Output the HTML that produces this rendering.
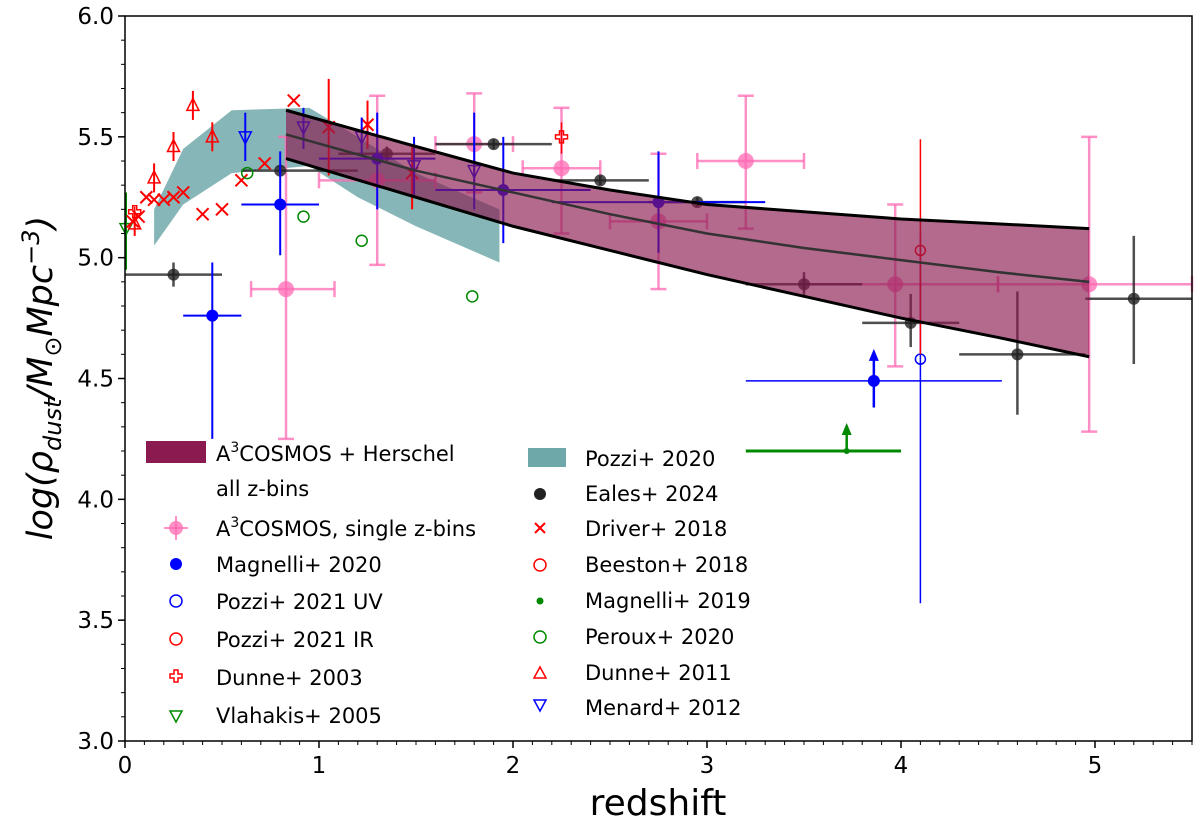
<!DOCTYPE html>
<html><head><meta charset="utf-8"><style>
body{margin:0;background:#fff;font-family:"Liberation Sans","DejaVu Sans",sans-serif}
svg text{font-family:"DejaVu Sans","Liberation Sans",sans-serif}
</style></head><body>
<svg id="c" width="1200" height="829"></svg>
<script>
const xTicks=[0,1,2,3,4,5];
const yTicks=[3.0,3.5,4.0,4.5,5.0,5.5,6.0];
// A3COSMOS + Herschel band
const bandZ=[0.83,1.5,2,2.5,3,3.5,4,4.5,4.97];
const bandUp=[5.61,5.46,5.35,5.28,5.22,5.19,5.16,5.14,5.12];
const bandMed=[5.51,5.36,5.27,5.18,5.10,5.04,4.99,4.94,4.90];
const bandLo=[5.41,5.25,5.13,5.03,4.93,4.84,4.75,4.67,4.59];
// Pozzi 2020 band
const pozZ=[0.15,0.3,0.55,0.95,1.2,1.5,1.93];
const pozUp=[5.2,5.45,5.61,5.62,5.5,5.35,5.2];
const pozLo=[5.05,5.22,5.35,5.38,5.25,5.13,4.98];
// A3COSMOS single z-bins
const a3Z=[0.83,1.3,1.8,2.25,2.75,3.2,3.97,4.97];
const a3V=[4.87,5.32,5.47,5.37,5.15,5.40,4.89,4.89];
const a3Zlo=[0.65,1.0,1.6,2.05,2.5,2.95,3.5,4.5];
const a3Zhi=[1.08,1.6,2.0,2.45,3.0,3.5,4.5,5.5];
const a3Vlo=[4.25,4.97,5.27,5.1,4.87,5.12,4.55,4.28];
const a3Vhi=[5.5,5.67,5.68,5.62,5.43,5.67,5.22,5.5];
// Eales 2024
const eaZ=[0.25,0.8,1.35,1.9,2.45,2.95,3.5,4.05,4.6,5.2];
const eaV=[4.93,5.36,5.43,5.47,5.32,5.23,4.89,4.73,4.6,4.83];
const eaZlo=[0,0.6,1.1,1.6,2.2,2.7,3.2,3.8,4.3,4.95];
const eaZhi=[0.5,1.2,1.6,2.2,2.7,3.2,3.8,4.3,4.95,5.5];
const eaVlo=[4.88,5.34,5.4,5.45,5.3,5.21,4.84,4.63,4.35,4.56];
const eaVhi=[4.98,5.38,5.46,5.49,5.34,5.25,4.94,4.85,4.86,5.09];
// Magnelli 2020
const mgZ=[0.45,0.8,1.3,1.95,2.75];
const mgV=[4.76,5.22,5.41,5.28,5.23];
const mgZlo=[0.3,0.6,1.0,1.6,2.2];
const mgZhi=[0.6,1.0,1.6,2.4,3.3];
const mgVlo=[4.25,5.01,5.2,5.06,5.02];
const mgVhi=[4.98,5.44,5.6,5.5,5.44];
const mgLimZ=[3.86], mgLimV=[4.49], mgLimZlo=[3.2], mgLimZhi=[4.52], mgLimVlo=[4.38];
// Pozzi 2021
const pUVZ=[4.1], pUVV=[4.58], pUVlo=[3.57], pUVhi=[5.1];
const pIRZ=[4.1], pIRV=[5.03], pIRlo=[4.6], pIRhi=[5.49];
// Dunne 2003
const d03Z=[0.05,2.25], d03V=[5.19,5.5], d03lo=[5.17,5.43], d03hi=[5.21,5.56];
// Vlahakis 2005
const vlZ=[0.0], vlV=[5.12], vllo=[4.95], vlhi=[5.27];
// Driver 2018
const drZ=[0.04,0.07,0.11,0.15,0.2,0.25,0.3,0.4,0.5,0.6,0.72,0.87,1.05,1.25,1.48];
const drV=[5.15,5.17,5.25,5.24,5.24,5.25,5.27,5.18,5.2,5.32,5.39,5.65,5.54,5.55,5.35];
const drLo=[5.15,5.17,5.25,5.24,5.24,5.25,5.27,5.18,5.2,5.32,5.39,5.65,5.34,5.45,5.2];
const drHi=[5.15,5.17,5.25,5.24,5.24,5.25,5.27,5.18,5.2,5.32,5.39,5.65,5.74,5.65,5.46];
// Peroux 2020
const peZ=[0.63,0.92,1.22,1.79], peV=[5.35,5.17,5.07,4.84];
// Dunne 2011
const d11Z=[0.05,0.15,0.25,0.35,0.45], d11V=[5.14,5.33,5.46,5.63,5.5];
const d11lo=[5.09,5.27,5.4,5.57,5.44], d11hi=[5.19,5.39,5.52,5.69,5.56];
// Menard 2012
const meZ=[0.62,0.92,1.22,1.49,1.8], meV=[5.5,5.54,5.5,5.38,5.36];
const melo=[5.4,5.45,5.42,5.25,5.2], mehi=[5.6,5.62,5.58,5.5,5.6];
// Magnelli 2019 lower limit
const m19Z=[3.72], m19V=[4.2], m19Zlo=[3.2], m19Zhi=[4.0];

const X0=125,X1=1192,Y0=16,Y1=741;
const X=z=>X0+(z-0)/5.5*(X1-X0);
const Y=v=>Y1-(v-3)/3*(Y1-Y0);
const svg=document.getElementById('c');
const NS='http://www.w3.org/2000/svg';
function mk(tag,at,name,parent){const e=document.createElementNS(NS,tag);for(const k in at)e.setAttribute(k,at[k]);


(parent||svg).appendChild(e);return e;}
const plot=mk('g',{},'plot-area');
function poly(zs,up,lo,fill,op,name){let p=zs.map((z,i)=>X(z)+','+Y(up[i]));for(let i=zs.length-1;i>=0;i--)p.push(X(zs[i])+','+Y(lo[i]));
mk('polygon',{points:p.join(' '),fill:fill,'fill-opacity':op},name,plot);}
function line(zs,vs,st,w,name){mk('polyline',{points:zs.map((z,i)=>X(z)+','+Y(vs[i])).join(' '),fill:'none',stroke:st,'stroke-width':w},name,plot);}
function seg(x1,y1,x2,y2,st,w,name,op){mk('line',{x1,y1,x2,y2,stroke:st,'stroke-width':w,'stroke-opacity':op||1},name,plot);}
// Pozzi band
poly(pozZ,pozUp,pozLo,'#5f9ea0',0.75,'pozzi2020-band');
// pink points
a3Z.forEach((z,i)=>{const c='#ff69b4',o=0.75;
seg(X(a3Zlo[i]),Y(a3V[i]),X(a3Zhi[i]),Y(a3V[i]),c,2.5,'a3-xerr',o);
seg(X(z),Y(a3Vlo[i]),X(z),Y(a3Vhi[i]),c,2.5,'a3-yerr',o);
[a3Zlo[i],a3Zhi[i]].forEach(q=>seg(X(q),Y(a3V[i])-8,X(q),Y(a3V[i])+8,c,2.5,'a3-cap',o));
[a3Vlo[i],a3Vhi[i]].forEach(q=>seg(X(z)-8,Y(q),X(z)+8,Y(q),c,2.5,'a3-cap',o));
mk('circle',{cx:X(z),cy:Y(a3V[i]),r:8,fill:c,'fill-opacity':o},'a3-point',plot);});
// Eales
eaZ.forEach((z,i)=>{const c='#222',o=0.8;
seg(X(eaZlo[i]),Y(eaV[i]),X(eaZhi[i]),Y(eaV[i]),c,2.5,'eales-xerr',o);
seg(X(z),Y(eaVlo[i]),X(z),Y(eaVhi[i]),c,2.5,'eales-yerr',o);
mk('circle',{cx:X(z),cy:Y(eaV[i]),r:6,fill:c,'fill-opacity':o},'eales-point',plot);});
// Magnelli 2020
mgZ.forEach((z,i)=>{const c='#0000ff';
seg(X(mgZlo[i]),Y(mgV[i]),X(mgZhi[i]),Y(mgV[i]),c,2,'magnelli2020-xerr');
seg(X(z),Y(mgVlo[i]),X(z),Y(mgVhi[i]),c,2,'magnelli2020-yerr');
mk('circle',{cx:X(z),cy:Y(mgV[i]),r:6,fill:c},'magnelli2020-point',plot);});
mgLimZ.forEach((z,i)=>{const c='#0000ff',x=X(z),y=Y(mgLimV[i]);
seg(X(mgLimZlo[i]),y,X(mgLimZhi[i]),y,c,1.5,'magnelli2020-limit-xerr');
seg(x,Y(mgLimVlo[i]),x,y-22,c,2.5,'magnelli2020-limit-arrow');
mk('polygon',{points:`${x-5},${y-20} ${x+5},${y-20} ${x},${y-32}`,fill:c},'magnelli2020-arrowhead',plot);
mk('circle',{cx:x,cy:y,r:6,fill:c},'magnelli2020-limit-point',plot);});
pUVZ.forEach((z,i)=>{seg(X(z),Y(pUVlo[i]),X(z),Y(pUVhi[i]),'#0000ff',1.5,'pozzi2021uv-yerr');
mk('circle',{cx:X(z),cy:Y(pUVV[i]),r:5,fill:'none',stroke:'#0000ff','stroke-width':1.5},'pozzi2021uv-point',plot);});
pIRZ.forEach((z,i)=>{seg(X(z),Y(pIRlo[i]),X(z),Y(pIRhi[i]),'#ff0000',1.5,'pozzi2021ir-yerr');
mk('circle',{cx:X(z),cy:Y(pIRV[i]),r:5,fill:'none',stroke:'#ff0000','stroke-width':1.5},'pozzi2021ir-point',plot);});
d03Z.forEach((z,i)=>{const x=X(z),y=Y(d03V[i]);seg(x,Y(d03lo[i]),x,Y(d03hi[i]),'#f00',1.5,'dunne2003-yerr');
mk('path',{d:`M${x-2},${y-6}h4v4h4v4h-4v4h-4v-4h-4v-4h4z`,fill:'none',stroke:'#f00','stroke-width':1.5},'dunne2003-point',plot);});
vlZ.forEach((z,i)=>{const x=X(z)+1,y=Y(vlV[i]);seg(x,Y(vllo[i]),x,Y(vlhi[i]),'#080',2,'vlahakis-yerr');
mk('polygon',{points:`${x-6},${y-5} ${x+6},${y-5} ${x},${y+6}`,fill:'none',stroke:'#080','stroke-width':1.5},'vlahakis-point',plot);});
drZ.forEach((z,i)=>{const x=X(z),y=Y(drV[i]);if(drHi[i]>drLo[i])seg(x,Y(drLo[i]),x,Y(drHi[i]),'#f00',2,'driver-yerr');
mk('path',{d:`M${x-6},${y-6}L${x+6},${y+6}M${x-6},${y+6}L${x+6},${y-6}`,stroke:'#f00','stroke-width':2},'driver-point',plot);});
peZ.forEach((z,i)=>mk('circle',{cx:X(z),cy:Y(peV[i]),r:5.5,fill:'none',stroke:'#080','stroke-width':1.5},'peroux-point',plot));
d11Z.forEach((z,i)=>{const x=X(z),y=Y(d11V[i]);seg(x,Y(d11lo[i]),x,Y(d11hi[i]),'#f00',2,'dunne2011-yerr');
mk('polygon',{points:`${x-6},${y+5} ${x+6},${y+5} ${x},${y-7}`,fill:'none',stroke:'#f00','stroke-width':1.5},'dunne2011-point',plot);});
meZ.forEach((z,i)=>{const x=X(z),y=Y(meV[i]);seg(x,Y(melo[i]),x,Y(mehi[i]),'#00f',2,'menard-yerr');
mk('polygon',{points:`${x-6},${y-5} ${x+6},${y-5} ${x},${y+7}`,fill:'none',stroke:'#00f','stroke-width':1.5},'menard-point',plot);});
m19Z.forEach((z,i)=>{const x=X(z),y=Y(m19V[i]);seg(X(m19Zlo[i]),y,X(m19Zhi[i]),y,'#080',3,'magnelli2019-xerr');
seg(x,y,x,y-18,'#080',2.5,'magnelli2019-arrow');
mk('polygon',{points:`${x-5},${y-16} ${x+5},${y-16} ${x},${y-28}`,fill:'#080'},'magnelli2019-arrowhead',plot);
mk('circle',{cx:x,cy:y,r:3,fill:'#080'},'magnelli2019-point',plot);});
// A3 band on top
poly(bandZ,bandUp,bandLo,'#8b1a50',0.65,'a3cosmos-band');
line(bandZ,bandUp,'#000',3,'a3cosmos-upper');
line(bandZ,bandLo,'#000',3,'a3cosmos-lower');
line(bandZ,bandMed,'#333',2.5,'a3cosmos-median');
// axes
mk('rect',{x:X0,y:Y0,width:X1-X0,height:Y1-Y0,fill:'none',stroke:'#000','stroke-width':1.5},'axes-frame');
for(let z=0;z<=5.5001;z+=0.1){const maj=Math.abs(z-Math.round(z))<1e-6;
mk('line',{x1:X(z),x2:X(z),y1:Y1,y2:Y1+(maj?7:4),stroke:'#000','stroke-width':maj?1.5:1},'x-tick');}
for(let v=3;v<=6.0001;v+=0.1){const maj=Math.abs(v*2-Math.round(v*2))<1e-6;
mk('line',{x1:X0,x2:X0-(maj?7:4),y1:Y(v),y2:Y(v),stroke:'#000','stroke-width':maj?1.5:1},'y-tick');}
xTicks.forEach(t=>{const e=mk('text',{x:X(t),y:773,'font-size':23,'text-anchor':'middle'},'x-tick-label');e.textContent=t;});
yTicks.forEach(t=>{const e=mk('text',{x:114,y:Y(t)+8,'font-size':23,'text-anchor':'end'},'y-tick-label');e.textContent=t.toFixed(1);});
</script>
<svg style="position:absolute;left:0;top:0" width="1200" height="829">
<text x="658" y="815" font-size="36" text-anchor="middle" font-family="DejaVu Sans">redshift</text>
<text transform="translate(52,378) rotate(-90)" font-size="35" font-style="italic" text-anchor="middle" font-family="DejaVu Sans">log(ρ<tspan font-size="24" dy="9">dust</tspan><tspan dy="-9">/M</tspan><tspan font-size="24" dy="9">⊙</tspan><tspan dy="-9">Mpc</tspan><tspan font-size="24" dy="-13">−3</tspan><tspan dy="13">)</tspan></text>
<g font-size="21" font-family="DejaVu Sans">
<rect x="146" y="441" width="60" height="22" fill="#8b1a50"/>
<text x="216" y="461">A<tspan font-size="14" dy="-9">3</tspan><tspan dy="9">COSMOS + Herschel</tspan></text>
<text x="216" y="496">all z-bins</text>
<g><line x1="176" y1="516" x2="176" y2="540" stroke="#ff69b4" stroke-opacity=".75" stroke-width="2"/><line x1="164" y1="528" x2="188" y2="528" stroke="#ff69b4" stroke-opacity=".75" stroke-width="2"/><circle cx="176" cy="528" r="7" fill="#ff69b4" fill-opacity=".75"/></g>
<text x="216" y="536">A<tspan font-size="14" dy="-9">3</tspan><tspan dy="9">COSMOS, single z-bins</tspan></text>
<circle cx="176" cy="564" r="6" fill="#00f"/><text x="216" y="572">Magnelli+ 2020</text>
<circle cx="176" cy="601" r="6" fill="none" stroke="#00f" stroke-width="1.5"/><text x="216" y="609">Pozzi+ 2021 UV</text>
<circle cx="176" cy="639" r="6" fill="none" stroke="#f00" stroke-width="1.5"/><text x="216" y="647">Pozzi+ 2021 IR</text>
<path d="M174,670h4v4h4v4h-4v4h-4v-4h-4v-4h4z" fill="none" stroke="#f00" stroke-width="1.5"/><text x="216" y="685">Dunne+ 2003</text>
<polygon points="170,711 182,711 176,722" fill="none" stroke="#080" stroke-width="1.5"/><text x="216" y="723">Vlahakis+ 2005</text>
<rect x="528" y="448" width="38" height="19" fill="#5f9ea0" fill-opacity=".9"/><text x="585" y="466">Pozzi+ 2020</text>
<circle cx="540" cy="494" r="6" fill="#222"/><text x="585" y="501">Eales+ 2024</text>
<path d="M535,523l10,10M535,533l10,-10" stroke="#f00" stroke-width="2"/><text x="585" y="536">Driver+ 2018</text>
<circle cx="540" cy="565" r="6" fill="none" stroke="#f00" stroke-width="1.5"/><text x="585" y="572">Beeston+ 2018</text>
<circle cx="540" cy="601" r="3.5" fill="#080"/><text x="585" y="608">Magnelli+ 2019</text>
<circle cx="540" cy="637" r="6" fill="none" stroke="#080" stroke-width="1.5"/><text x="585" y="644">Peroux+ 2020</text>
<polygon points="534,678 546,678 540,667" fill="none" stroke="#f00" stroke-width="1.5"/><text x="585" y="680">Dunne+ 2011</text>
<polygon points="534,700 546,700 540,711" fill="none" stroke="#00f" stroke-width="1.5"/><text x="585" y="715">Menard+ 2012</text>
</g>
</svg>
</body></html>
